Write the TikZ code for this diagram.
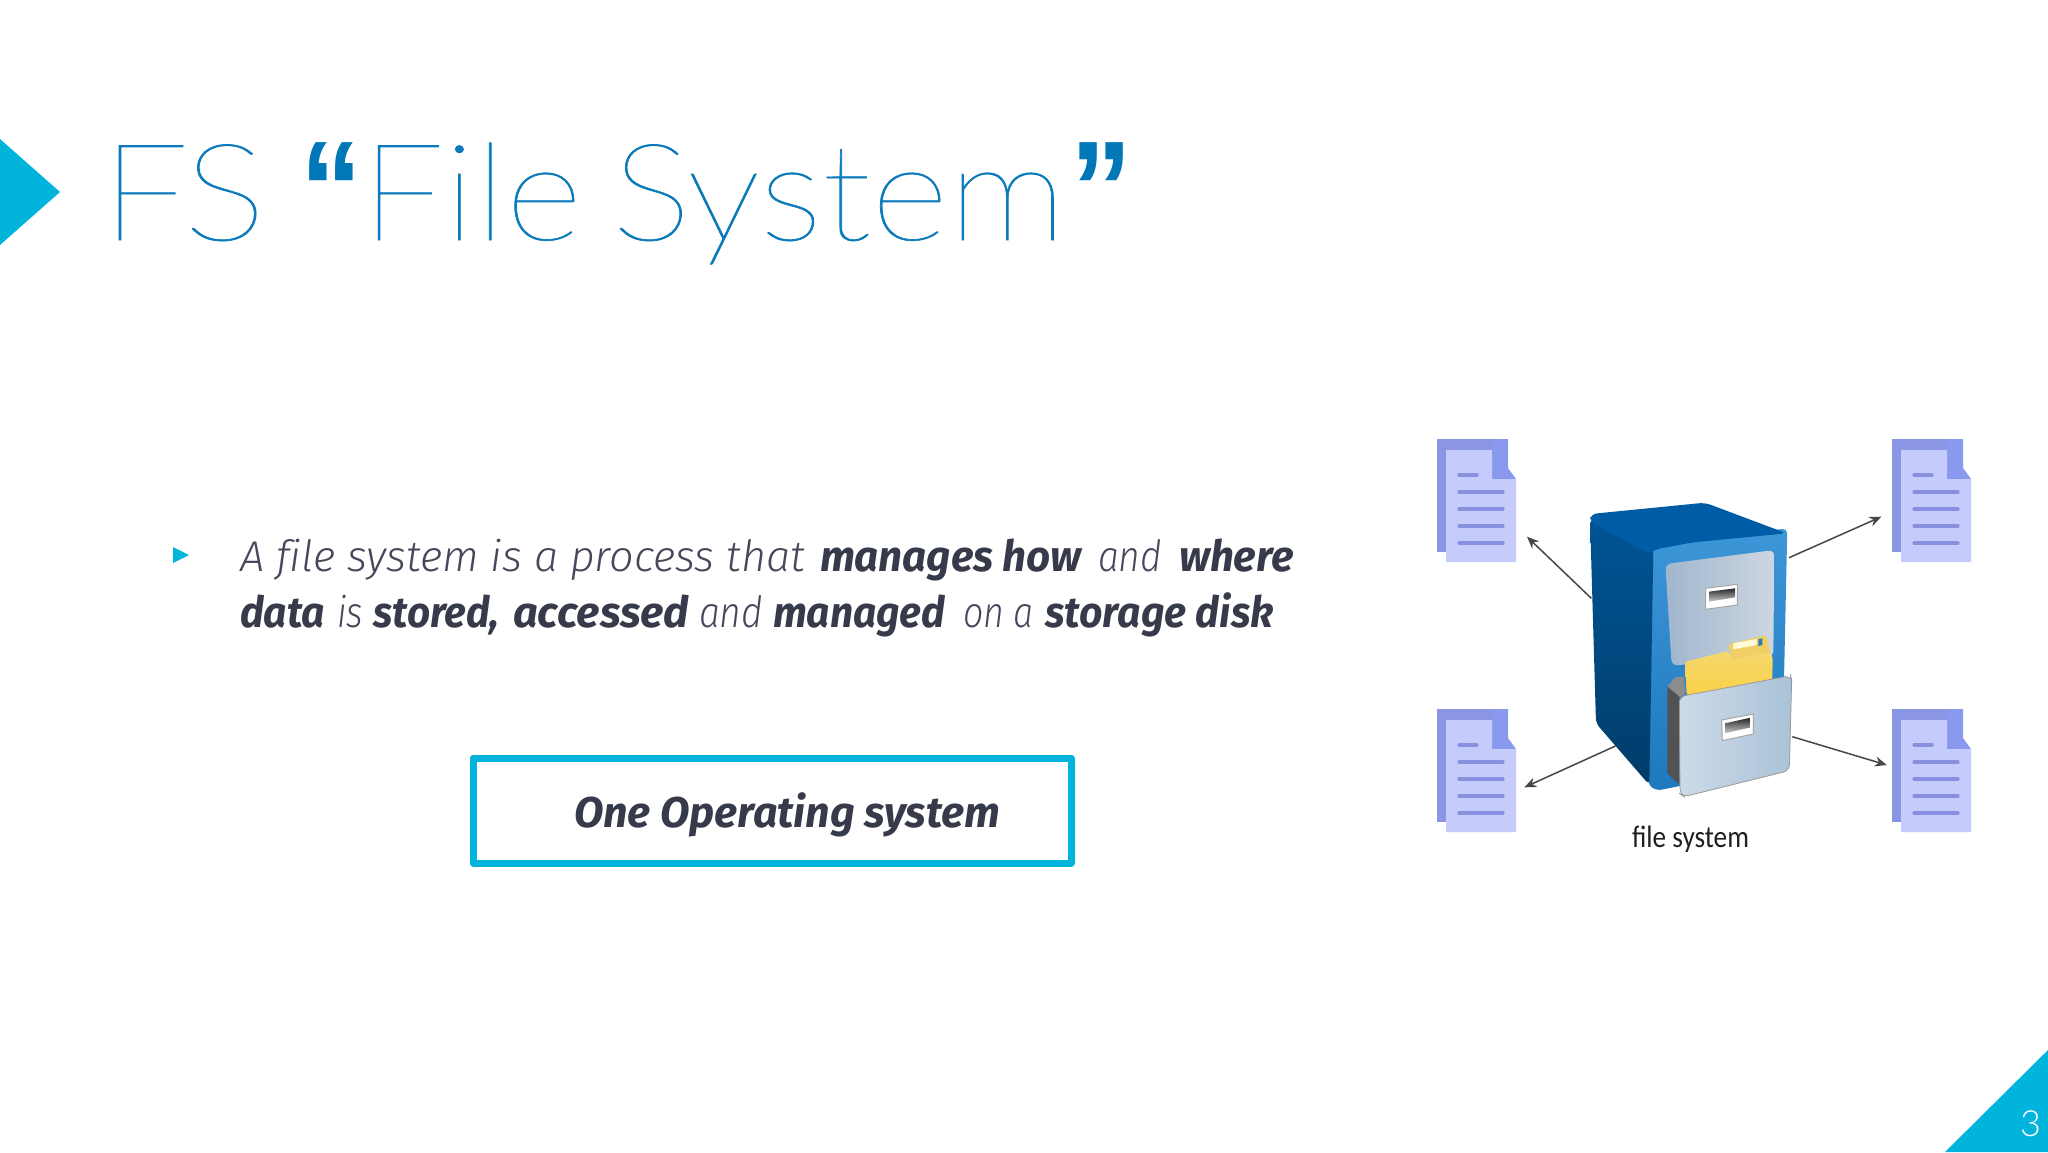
\documentclass[tikz,border=0pt]{standalone}
\usepackage{fontspec}
\usepackage{graphicx}
\usetikzlibrary{arrows.meta}
\setmainfont{Fira Sans}
\newfontfamily\titlefont[FakeBold=0.5]{Lato Thin}
\newfontfamily\pagefont{Lato Light}
\newfontfamily\quotefont{Liberation Sans Bold}
\newfontfamily\lightitfont[Ligatures=CommonOff]{Fira Sans Light Italic}
\newfontfamily\boldfont{Fira Sans Bold Italic}
\newfontfamily\capfont{Carlito}
\definecolor{cyanmain}{HTML}{00B4DC}
\definecolor{titleblue}{HTML}{0B7ABB}
\definecolor{quoteblue}{HTML}{0078B8}
\definecolor{inktext}{HTML}{373A4A}
\definecolor{lighttext}{HTML}{44485A}
\definecolor{docback}{HTML}{8A96E4}
\definecolor{docfold}{HTML}{8899EE}
\definecolor{docfront}{HTML}{C5CCFB}
\definecolor{docline}{HTML}{8A90E0}
\definecolor{frontA}{RGB}{60,150,215}
\definecolor{frontB}{RGB}{30,120,190}
\definecolor{sideA}{RGB}{0,85,150}
\definecolor{sideB}{RGB}{0,60,105}
\definecolor{topface}{RGB}{0,92,165}
\definecolor{drawerA}{RGB}{160,182,205}
\definecolor{drawerB}{RGB}{205,215,225}
\definecolor{drawerC}{RGB}{205,218,232}
\definecolor{drawerD}{RGB}{170,195,215}
\definecolor{folderback}{RGB}{240,208,100}
\definecolor{folderA}{RGB}{245,215,110}
\definecolor{folderB}{RGB}{250,210,70}
\definecolor{tabtick}{RGB}{50,120,180}
\definecolor{tablabel}{RGB}{255,250,215}
\newcommand{\fitw}[2]{\resizebox{#1pt}{\height}{#2}}
\tikzset{
  txt/.style={inner sep=0pt,outer sep=0pt,anchor=base west},
  lt/.style={txt,text=lighttext,font=\fontsize{43}{50}\lightitfont},
  bd/.style={txt,text=inktext,font=\fontsize{43}{50}\boldfont},
  link/.style={draw=black!72,line width=1.5pt,-{Stealth[length=12pt,width=10pt]}},
  docpic/.pic={
    \fill[docback] (1437,439) rectangle (1508,552);
    \fill[docfold] (1492,439) -- (1508,439) -- (1508,468) -- (1516,479) -- (1492,479) -- cycle;
    \fill[docfront] (1446,450) -- (1492,450) -- (1492,479) -- (1516,479) -- (1516,562) -- (1446,562) -- cycle;
    \draw[docline,line width=3.2pt,line cap=round] (1459,475) -- (1477,475)
      (1459,492) -- (1503,492) (1459,509) -- (1503,509) (1459,526) -- (1503,526) (1459,543) -- (1503,543);
  }
}
\begin{document}
\begin{tikzpicture}[x=1pt,y=-1pt]
\useasboundingbox (0,0) rectangle (2048,1152);
\fill[white] (0,0) rectangle (2048,1152);
% slide marks
\fill[cyanmain] (0,139) -- (60,192) -- (0,245) -- cycle;
\fill[cyanmain] (173,547) -- (189,555) -- (173,563) -- cycle;
\fill[cyanmain] (1945,1152) -- (2048,1050) -- (2048,1152) -- cycle;
% title
\node[txt,text=titleblue] (tfs) at (101,240) {\fitw{165}{\fontsize{135}{150}\titlefont FS}};
\node[txt,text=quoteblue] (tq1) at (300,235) {\fitw{62}{\fontsize{135}{150}\quotefont “}};
\node[txt,text=titleblue] (tfile) at (361,240) {\fitw{221}{\fontsize{135}{150}\titlefont File}};
\node[txt,text=titleblue] (tsys) at (612,240) {\fitw{454}{\fontsize{135}{150}\titlefont System}};
\node[txt,text=quoteblue] (tq2) at (1070,235) {\fitw{62}{\fontsize{135}{150}\quotefont ”}};
% body line 1
\node[lt] (l1a) at (240,571) {\fitw{565}{A file system is a process that}};
\node[bd] (l1b) at (820,571) {\fitw{262}{manages how}};
\node[lt] (l1c) at (1098,571) {\fitw{64}{and}};
\node[bd] (l1d) at (1179,571) {\fitw{115}{where}};
% body line 2
\node[bd] (l2a) at (240,627) {\fitw{85}{data}};
\node[lt] (l2b) at (337,627) {\fitw{26}{is}};
\node[bd] (l2c) at (373.5,627) {\fitw{126}{stored,}};
\node[bd] (l2d) at (513,627) {\fitw{176}{accessed}};
\node[lt] (l2e) at (699,627) {\fitw{64}{and}};
\node[bd] (l2f) at (773,627) {\fitw{172}{managed}};
\node[lt] (l2g) at (963,627) {\fitw{71}{on a}};
\node[bd] (l2h) at (1045.5,627) {\fitw{228}{storage disk}};
% framed label
\draw[cyanmain,line width=7pt,line join=round] (473,758) rectangle (1071,863);
\node[bd] (osbox) at (574,827) {\fitw{426}{One Operating system}};
% page number
\node[txt,text=white] (pgno) at (2020,1136) {\fontsize{36}{40}\pagefont 3};
% documents
\pic at (0,0) {docpic};
\pic at (455,0) {docpic};
\pic at (0,270) {docpic};
\pic at (455,270) {docpic};
% connector ends
\coordinate (cabtl) at (1591.3,598.3);
\coordinate (doctl) at (1527,536.7);
\coordinate (cabtr) at (1789,557.7);
\coordinate (doctr) at (1881.4,516.7);
\coordinate (cabbl) at (1615.5,746);
\coordinate (docbl) at (1524.4,787.3);
\coordinate (cabbr) at (1792.3,736.7);
\coordinate (docbr) at (1886.8,765);
\draw[link] (cabtl) -- (doctl);
\draw[link] (cabtr) -- (doctr);
\draw[link] (cabbl) -- (docbl);
\draw[link] (cabbr) -- (docbr);
% cabinet (coordinates in a 3x sub-frame)
\begin{scope}[shift={(1560,490)},x=0.3333pt,y=-0.3333pt]
  % front face
  \shade[bottom color=frontB,top color=frontA,rounded corners=5pt]
     (265,200) -- (285,165) -- (682,115) -- (672,570) -- (400,880) -- (290,902) -- (265,885) -- cycle;
  % left side
  \shade[top color=sideA,bottom color=sideB,rounded corners=5pt]
     (90,85) -- (280,178) -- (268,885) -- (108,700) -- cycle;
  % top face
  \fill[topface,rounded corners=6pt]
     (92,72) -- (435,38) -- (680,130) -- (400,157) -- (285,178) -- (268,192) -- (90,95) -- cycle;
  % upper drawer
  \shade[shading angle=135,left color=drawerA,right color=drawerB,rounded corners=6pt]
     (316,222) -- (643,180) -- (640,500) -- (335,527) -- cycle;
  % upper handle
  \fill[white,draw=black!35,line width=1pt] (437,295) -- (532,283) -- (532,345) -- (437,358) -- cycle;
  \shade[top color=black!85,bottom color=black!20] (447,305) -- (525,295) -- (525,322) -- (447,335) -- cycle;
  % folder
  \fill[folderback,rounded corners=3pt]
     (505,462) -- (612,437) -- (620,440) -- (633,492) -- (515,512) -- cycle;
  \fill[tablabel] (520,460) -- (590,447) -- (590,465) -- (520,478) -- cycle;
  \fill[tabtick] (595,447) -- (607,445) -- (607,465) -- (595,468) -- cycle;
  \shade[top color=folderA,bottom color=folderB,rounded corners=3pt]
     (375,515) -- (505,483) -- (515,510) -- (630,487) -- (638,500) -- (637,572) -- (380,618) -- cycle;
  % drawer shell
  \fill[black!45] (322,590) -- (345,562) -- (372,560) -- (376,612) -- (358,622) -- cycle;
  \fill[black!68] (322,590) -- (358,620) -- (358,885) -- (322,850) -- cycle;
  % drawer front
  \shade[shading angle=135,left color=drawerC,right color=drawerD,draw=black!40,line width=0.8pt,rounded corners=6pt]
     (358,620) -- (692,557) -- (695,570) -- (688,842) -- (372,920) -- (360,912) -- cycle;
  % lower handle
  \fill[white,draw=black!35,line width=1pt] (485,690) -- (580,672) -- (580,732) -- (487,752) -- cycle;
  \shade[top color=black!85,bottom color=black!20] (495,700) -- (572,683) -- (572,712) -- (495,730) -- cycle;
\end{scope}
% caption
\node[txt,text=black!88] (cap) at (1632,847) {\fitw{117}{\fontsize{31}{36}\capfont file system}};
\end{tikzpicture}
\end{document}
